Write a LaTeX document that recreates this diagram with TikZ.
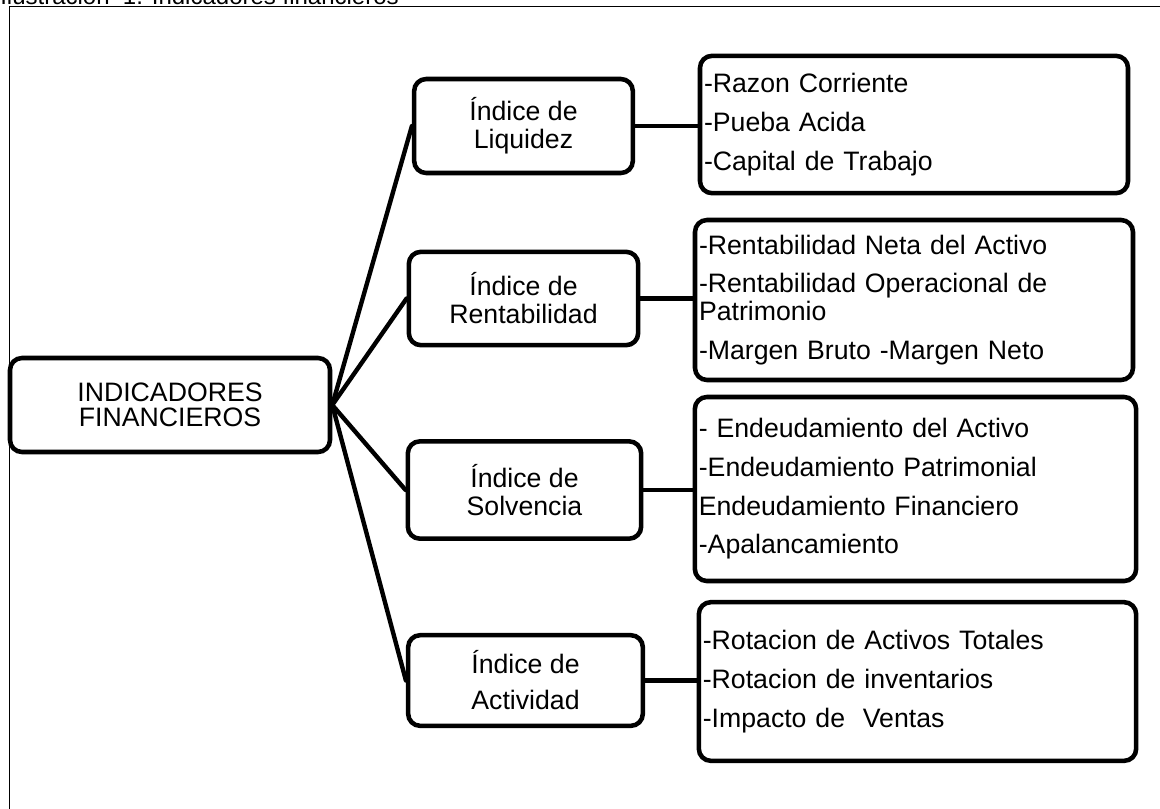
\documentclass[tikz,border=0pt]{standalone}
\usepackage{fontspec}
\setmainfont{Liberation Sans}
\begin{document}
\begin{tikzpicture}[x=0.75pt,y=-0.75pt,
  box/.style={draw=black,line width=3.4pt,rounded corners=9pt,inner sep=0pt,
    font=\fontsize{20}{21}\selectfont,align=center},
  listbox/.style={draw=black,line width=3.4pt,rounded corners=9pt,inner xsep=3pt,inner ysep=0pt,
    font=\fontsize{20}{21}\selectfont,align=left},
  link/.style={line width=3.3pt,line cap=round}]
\useasboundingbox (0,0) rectangle (1160,808);
\clip (0,0) rectangle (1160,808);
\draw[line width=1.3pt] (9.5,830) -- (9.5,6.5) -- (1180,6.5);
\node[anchor=base west,font=\fontsize{18}{20}\selectfont,inner sep=0pt] (title) at (0,4.5) {Ilustración\ \ 1. Indicadores financieros};
% main
\node[box,minimum width=240pt,minimum height=70.5pt,font=\fontsize{20}{19}\selectfont] (main) at (170,405) {INDICADORES\\FINANCIEROS};
% level 2
\node[box,minimum width=164pt,minimum height=70.5pt] (liq) at (523.5,126) {Índice de\\Liquidez};
\node[box,minimum width=172pt,minimum height=70pt] (ren) at (523.5,298.5) {Índice de\\Rentabilidad};
\node[box,minimum width=175pt,minimum height=73pt] (sol) at (524.5,490) {Índice de\\Solvencia};
\node[box,minimum width=176pt,minimum height=68pt] (act) at (525.5,680.5) {Índice de\\[6pt]Actividad};
% level 3
\node[listbox,minimum width=321pt,minimum height=103pt,text width=315pt] (l1) at (914,124.5)
  {-Razon Corriente\\[8pt]-Pueba Acida\\[8pt]-Capital de Trabajo};
\node[listbox,minimum width=328.5pt,minimum height=120pt,text width=322.5pt] (l2) at (914,300)
  {-Rentabilidad Neta del Activo\\[8pt]-Rentabilidad Operacional de\\Patrimonio\\[8pt]-Margen Bruto -Margen Neto};
\node[listbox,minimum width=331pt,minimum height=138pt,text width=325pt] (l3) at (915.5,489)
  {- Endeudamiento del Activo\\[8pt]-Endeudamiento Patrimonial\\[8pt]Endeudamiento Financiero\\[8pt]-Apalancamiento};
\node[listbox,minimum width=328pt,minimum height=119pt,text width=322pt] (l4) at (917.5,681.5)
  {-Rotacion de Activos Totales\\[8pt]-Rotacion de inventarios\\[8pt]-Impacto de\ \ Ventas};
% connectors
\foreach \n in {liq,ren,sol,act}{\draw[link] (main.east) -- (\n.west);}
\draw[link] (liq.east) -- (liq.east -| l1.west);
\draw[link] (ren.east) -- (ren.east -| l2.west);
\draw[link] (sol.east) -- (sol.east -| l3.west);
\draw[link] (act.east) -- (act.east -| l4.west);
\end{tikzpicture}
\end{document}
